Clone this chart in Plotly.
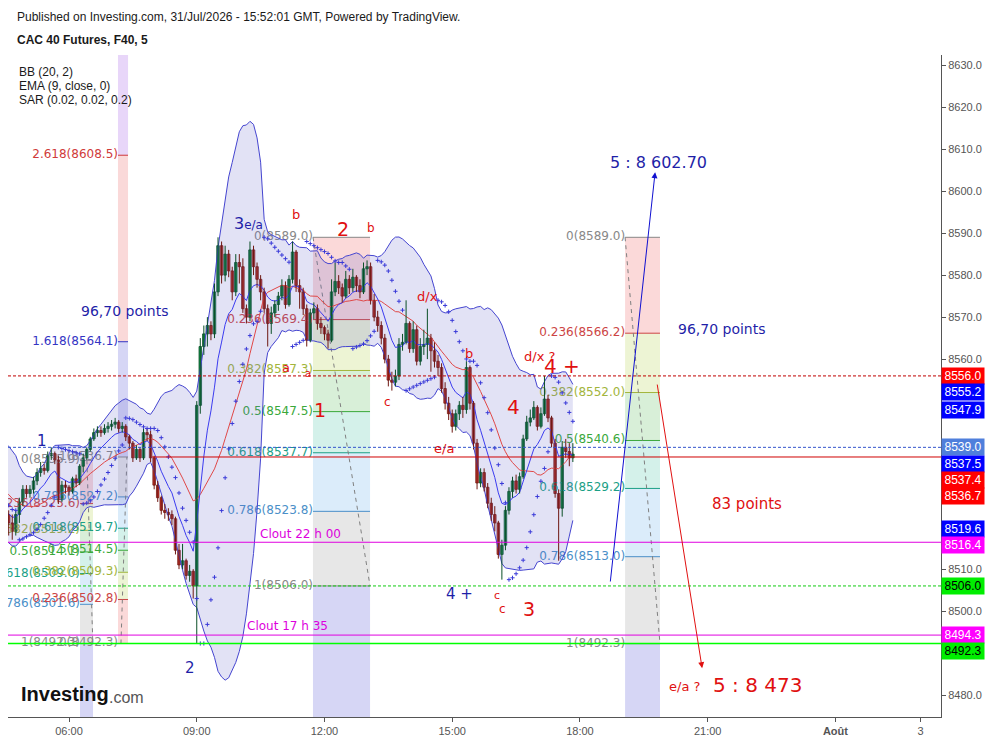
import numpy as np
import pandas as pd
import plotly.graph_objects as go

# ---------------- data ----------------
START_HOUR = 2 + 55 / 60          # first (hidden warm-up) bar 02:55
BAR_MINUTES = 5
FIRST_OPEN = 8533.0

pre_close = [8534, 8537, 8535, 8539, 8536, 8533, 8530, 8532, 8528, 8525,
             8527, 8523, 8526, 8529, 8525, 8521, 8524, 8522, 8519, 8523]
pre_high = [8536, 8538, 8538, 8540, 8540, 8537, 8534, 8533, 8533, 8529,
            8528, 8528, 8527, 8530, 8530, 8526, 8525, 8525, 8523, 8524]
pre_low = [8531, 8533, 8534, 8534, 8535, 8532, 8529, 8529, 8527, 8524,
           8524, 8522, 8522, 8525, 8524, 8520, 8520, 8521, 8518, 8518]

close = [8521, 8519, 8523, 8526, 8529, 8528, 8529, 8531, 8533, 8534,
         8533.5, 8537, 8537.5, 8536, 8526.5, 8530, 8529.5, 8528.5, 8531.5, 8530.5,
         8534.5, 8536.5, 8538.5, 8541, 8542.5, 8543, 8542.5, 8543.5, 8544, 8544.5,
         8545, 8543.5, 8544, 8541.5, 8540, 8536.5, 8538.5, 8536.5, 8542.5, 8542,
         8536.5, 8530, 8527, 8524, 8523.5, 8523, 8522, 8514.5, 8511, 8512,
         8508.5, 8509.5, 8506, 8549, 8563, 8566, 8568, 8566, 8576, 8587,
         8580, 8585, 8581, 8576, 8583, 8582, 8572, 8570, 8586, 8582,
         8579, 8576, 8572, 8568.5, 8571, 8573, 8575, 8577.5, 8573, 8579,
         8585.5, 8577.5, 8576, 8572, 8564.5, 8571, 8572, 8568.5, 8567.5, 8566,
         8564.5, 8576, 8578.5, 8577, 8575, 8579, 8577, 8579.5, 8577.5, 8576,
         8581.5, 8582, 8574, 8570, 8568, 8565, 8560, 8555, 8554.5, 8556,
         8563.5, 8564, 8568.5, 8562.5, 8567, 8559.5, 8563, 8563.5, 8565, 8562,
         8559.5, 8558, 8553, 8549.5, 8547, 8544, 8547, 8549, 8548, 8558,
         8549.5, 8540, 8530.5, 8533, 8529.5, 8525.7, 8523, 8521, 8513.5, 8515.7,
         8524, 8528.5, 8531, 8529, 8532, 8541, 8545, 8546, 8548.5, 8544,
         8547, 8550.5, 8546, 8540, 8528, 8524.5, 8539, 8538, 8536.5, 8537.4]
high = [8524, 8523, 8524, 8527, 8530, 8530, 8530, 8532, 8534, 8535.5,
        8535, 8538, 8539, 8538, 8537, 8531, 8531, 8530, 8532, 8532.5,
        8535, 8537.5, 8539, 8541.5, 8543.5, 8544, 8544, 8544.5, 8545, 8545.5,
        8546, 8545.5, 8545, 8544.5, 8542, 8540.5, 8539.5, 8539, 8543.5, 8543.5,
        8543, 8537, 8531, 8527.5, 8525.5, 8524.5, 8524, 8522.5, 8516, 8516,
        8512.5, 8511, 8510, 8550, 8565, 8568, 8570, 8569, 8578, 8589,
        8588, 8587, 8586, 8582, 8585, 8585, 8584, 8573, 8588, 8587,
        8583, 8580, 8577, 8573, 8572.5, 8574, 8576, 8579, 8578.5, 8580,
        8588, 8586, 8579, 8577, 8573, 8572, 8573.5, 8573, 8570, 8568,
        8567, 8579, 8583, 8580, 8578, 8581, 8580, 8581.5, 8580, 8579,
        8583, 8583.5, 8583, 8575.5, 8571.5, 8569, 8566, 8561, 8557, 8557.5,
        8565, 8566, 8574, 8569, 8569, 8568, 8565, 8567, 8572, 8566,
        8564, 8561, 8559, 8554.5, 8551, 8548, 8548, 8550, 8551, 8559.5,
        8558.5, 8550, 8541, 8534, 8534, 8530.5, 8527, 8525, 8521.5, 8517,
        8525, 8529.5, 8532, 8532.5, 8533, 8542, 8546.5, 8548, 8550, 8549,
        8548.5, 8556, 8551.5, 8546.5, 8541, 8529, 8540.5, 8541, 8540, 8540]
low = [8518, 8517, 8518, 8521, 8525, 8527, 8527, 8528, 8530, 8532,
       8532.5, 8533, 8536, 8535, 8525.5, 8526, 8528, 8527.5, 8528, 8529.5,
       8530, 8533, 8536, 8538, 8540.5, 8541.5, 8541.5, 8542, 8542.5, 8543,
       8543.5, 8542.5, 8542.5, 8540.5, 8538.5, 8535.5, 8536, 8535.5, 8536, 8540.5,
       8535.5, 8529, 8526, 8523, 8522, 8521.5, 8520.5, 8513.5, 8510, 8510,
       8507.5, 8507, 8503, 8492.3, 8547, 8561, 8563, 8564.5, 8565, 8575,
       8578, 8578.5, 8579.5, 8574, 8575, 8578, 8571, 8568.5, 8569, 8580,
       8577, 8574, 8571, 8563, 8566, 8570, 8571.5, 8574, 8572, 8572.5,
       8578, 8576, 8572, 8570.5, 8563, 8564, 8569.5, 8567, 8566, 8564.5,
       8562.5, 8564, 8575, 8575.5, 8573.5, 8574.5, 8575.5, 8576, 8576, 8574.5,
       8575.5, 8580, 8573, 8569, 8566.5, 8563.5, 8559, 8553.5, 8552.5, 8553.5,
       8555, 8562, 8563.5, 8561.5, 8561.5, 8558.5, 8558.5, 8561, 8560, 8557,
       8558, 8556, 8552, 8548, 8545.5, 8542.5, 8543, 8545.5, 8546, 8547,
       8548, 8538.5, 8529, 8529.5, 8528.5, 8524.5, 8521.5, 8519, 8512.5, 8507.5,
       8514.5, 8523, 8527, 8528, 8528, 8531.5, 8540.5, 8544, 8545.5, 8543,
       8543.5, 8546.5, 8545, 8539, 8527, 8512, 8522.5, 8536.5, 8534.5, 8535.5]

x_tick_vals = [6, 9, 12, 15, 18, 21, 24, 26]
x_tick_text = ["06:00", "09:00", "12:00", "15:00", "18:00", "21:00", "<b>Août</b>", "3"]
y_tick_vals = [8480, 8500, 8510, 8560, 8570, 8580, 8590, 8600, 8610, 8620, 8630]

X_RANGE = [4.567, 26.48]
Y_RANGE = [8474.8, 8632.4]

# Fibonacci drawings: time span (h), price of level 0 and level 1, last level, dashed trend
fibs = [
    dict(t0=6.258, t1=6.564, p0=8535.9, p1=8492.3, maxlvl=1.618, tr=(6.42, 6.56)),
    dict(t0=7.15, t1=7.386, p0=8492.3, p1=8536.7, maxlvl=3.618, tr=(7.22, 7.36)),
    dict(t0=11.73, t1=13.07, p0=8589.0, p1=8506.0, maxlvl=1.618, tr=(11.73, 13.07)),
    dict(t0=19.06, t1=19.88, p0=8589.0, p1=8492.26, maxlvl=1.618, tr=(19.06, 19.88)),
]
fib_levels = [0, 0.236, 0.382, 0.5, 0.618, 0.786, 1, 1.618, 2.618, 3.618]
fib_line_colors = ["#888888", "#cc4444", "#a2b53c", "#3aa83a", "#1b9f86", "#4a8fc8",
                   "#888888", "#3434c4", "#d03a3a", "#9a40d0"]
fib_zone_colors = [None, "rgba(235,80,80,0.22)", "rgba(175,205,60,0.22)", "rgba(76,180,76,0.22)",
                   "rgba(40,185,150,0.20)", "rgba(90,170,230,0.22)", "rgba(120,120,120,0.18)",
                   "rgba(70,70,210,0.22)", "rgba(230,80,80,0.22)", "rgba(165,90,230,0.25)"]

# horizontal lines: price, colour, dash, width, start time (None = full width)
hlines = [
    (8556.0, "#c00000", "3px,2px", 1, None),
    (8539.0, "#3355cc", "3px,2px", 1, None),
    (8536.7, "#d00000", "solid", 1, 7.95),
    (8516.4, "#e000e0", "solid", 1, None),
    (8506.0, "#11cc11", "3px,2px", 1, None),
    (8494.3, "#e000e0", "solid", 1, None),
    (8492.3, "#00ff00", "solid", 1.5, None),
]

# price labels on the right scale
axis_labels = [(8556.0, "#ff0000", "white"), (8555.2, "#0000ff", "white"),
               (8547.9, "#0000ff", "white"), (8539.0, "#4f7fdc", "white"),
               (8537.5, "#0000ff", "white"), (8537.4, "#ff0000", "white"),
               (8536.7, "#ff0000", "white"), (8519.6, "#0000ff", "white"),
               (8516.4, "#ff00ff", "white"), (8506.0, "#00ee00", "black"),
               (8494.3, "#ff00ff", "white"), (8492.3, "#00ee00", "black")]

BLUE = "#1f1fa8"
RED = "#e01010"
MAG = "#dd00dd"
# chart notes: text, time, price, colour, size
notes = [
    ("1", 5.366, 8540.5, BLUE, 15),
    ("2", 8.842, 8486.4, BLUE, 15),
    ("3<span style='font-size:12px'>e/a</span>", 10.205, 8592.4, BLUE, 16),
    ("b", 11.33, 8594.5, RED, 13),
    ("2", 12.437, 8591.0, RED, 19),
    ("b", 13.094, 8591.2, RED, 12),
    ("a", 11.10, 8557.9, RED, 13),
    ("a", 11.62, 8556.6, RED, 10),
    ("1", 11.896, 8547.9, RED, 19),
    ("c", 13.49, 8549.8, RED, 12),
    ("d/x", 14.41, 8574.8, RED, 13),
    ("b", 15.396, 8561.4, RED, 13),
    ("e/a", 14.81, 8538.8, RED, 13),
    ("4", 16.43, 8548.6, RED, 20),
    ("d/x ?", 17.06, 8560.7, RED, 13),
    ("4 +", 17.58, 8558.3, RED, 20),
    ("4 +", 15.16, 8504.0, BLUE, 15),
    ("c", 16.05, 8503.8, RED, 11),
    ("c", 16.17, 8500.4, RED, 12),
    ("3", 16.80, 8500.5, RED, 19),
    ("5 : 8 602.70", 19.836, 8606.7, BLUE, 16),
    ("96,70 points", 21.34, 8567.1, BLUE, 14),
    ("96,70 points", 7.315, 8571.4, BLUE, 14),
    ("83 points", 21.93, 8525.5, RED, 15),
    ("e/a ?", 20.45, 8482.1, RED, 13),
    ("5 : 8 473", 22.16, 8482.4, RED, 20),
    ("Clout 22 h 00", 11.43, 8518.3, MAG, 12),
    ("Clout 17 h 35", 11.12, 8496.4, MAG, 12),
]
# arrows: (t_start, p_start, t_end, p_end, colour)
arrows = [
    (18.71, 8506.7, 19.766, 8604.5, "#1010d0"),
    (19.81, 8554.3, 20.87, 8486.4, "#e01010"),
]

# ---------------- computations ----------------
c_all = np.array(pre_close + close, dtype=float)
h_all = np.array(pre_high + high, dtype=float)
l_all = np.array(pre_low + low, dtype=float)
o_all = np.concatenate([[FIRST_OPEN], c_all[:-1]])
h_all = np.maximum.reduce([h_all, o_all, c_all])
l_all = np.minimum.reduce([l_all, o_all, c_all])
n = len(c_all)
bar_h = BAR_MINUTES / 60.0
times = START_HOUR + np.arange(n) * bar_h

s = pd.Series(c_all)
basis = s.rolling(20).mean()
dev = s.rolling(20).std(ddof=0)
upper = basis + 2 * dev
lower = basis - 2 * dev
ema9 = s.ewm(span=9, adjust=False).mean()


def psar(hi, lo, start=0.02, inc=0.02, mx=0.2):
    out = np.full(len(hi), np.nan)
    up = True
    af = start
    ep = hi[0]
    out[0] = lo[0]
    for i in range(1, len(hi)):
        prev = out[i - 1]
        v = prev + af * (ep - prev)
        if up:
            v = min(v, lo[i - 1], lo[max(i - 2, 0)])
            if lo[i] < v:
                up, v, ep, af = False, ep, lo[i], start
            elif hi[i] > ep:
                ep, af = hi[i], min(af + inc, mx)
        else:
            v = max(v, hi[i - 1], hi[max(i - 2, 0)])
            if hi[i] > v:
                up, v, ep, af = True, ep, hi[i], start
            elif lo[i] < ep:
                ep, af = lo[i], min(af + inc, mx)
        out[i] = v
    return out


sar = psar(h_all, l_all)

# ---------------- figure ----------------
# page body has an 8px margin, so the figure is sized/positioned to compensate
FIG_W, FIG_H = 985, 733
M_L, M_R, M_T, M_B = 0, 52, 47, 24
PLOT_W = FIG_W - M_L - M_R
PLOT_H = FIG_H - M_T - M_B

fig = go.Figure()
shapes = []

lab_x, lab_y, lab_t, lab_c = [], [], [], []
for f in fibs:
    rng = f["p1"] - f["p0"]
    lvls = [lv for lv in fib_levels if lv <= f["maxlvl"] + 1e-9]
    for k in range(1, len(lvls)):
        ya = f["p0"] + lvls[k - 1] * rng
        yb = f["p0"] + lvls[k] * rng
        shapes.append(dict(type="rect", xref="x", yref="y", x0=f["t0"], x1=f["t1"],
                           y0=ya, y1=yb, fillcolor=fib_zone_colors[k], line=dict(width=0),
                           layer="below"))
    for k, lv in enumerate(lvls):
        price = f["p0"] + lv * rng
        if not (Y_RANGE[0] < price < Y_RANGE[1]):
            continue
        shapes.append(dict(type="line", xref="x", yref="y", x0=f["t0"], x1=f["t1"],
                           y0=price, y1=price, line=dict(color=fib_line_colors[k], width=1),
                           layer="below"))
        lab_x.append(f["t0"])
        lab_y.append(price)
        lab_t.append(f"{lv:g}({price:.1f})")
        lab_c.append(fib_line_colors[k])
    shapes.append(dict(type="line", xref="x", yref="y", x0=f["tr"][0], x1=f["tr"][1],
                       y0=f["p0"], y1=f["p1"], line=dict(color="#808080", width=1, dash="4px,4px"),
                       layer="below"))

# horizontal rays are drawn over the candles, as in the reference
for price, col, dash, lw, t_start in hlines:
    x0 = X_RANGE[0] if t_start is None else t_start
    shapes.append(dict(type="line", xref="x", yref="y", x0=x0, x1=X_RANGE[1],
                       y0=price, y1=price, line=dict(color=col, width=lw, dash=dash),
                       layer="above"))

fig.add_trace(go.Scatter(x=lab_x, y=lab_y, text=lab_t, mode="text", textposition="middle left",
                         textfont=dict(family="DejaVu Sans", size=12, color=lab_c),
                         cliponaxis=False, hoverinfo="skip"))

fig.add_trace(go.Scatter(x=times, y=upper, mode="lines", line=dict(color="#4545d0", width=1),
                         hoverinfo="skip"))
fig.add_trace(go.Scatter(x=times, y=lower, mode="lines", line=dict(color="#4545d0", width=1),
                         fill="tonexty", fillcolor="rgba(100,100,200,0.19)", hoverinfo="skip"))
fig.add_trace(go.Scatter(x=times, y=basis, mode="lines", line=dict(color="#e04848", width=1),
                         hoverinfo="skip"))
fig.add_trace(go.Scatter(x=times, y=ema9, mode="lines", line=dict(color="#3c3cf0", width=1),
                         hoverinfo="skip"))

# candles: wicks as line segments, bodies as floating bars
up = c_all >= o_all
for mask, body_col, edge_col in [(up, "#17a052", "#0b4f27"), (~up, "#e03a30", "#6e1812")]:
    wx, wy = [], []
    for t, lo_, hi_ in zip(times[mask], l_all[mask], h_all[mask]):
        wx += [t, t, None]
        wy += [lo_, hi_, None]
    fig.add_trace(go.Scatter(x=wx, y=wy, mode="lines", line=dict(color=edge_col, width=1),
                             connectgaps=False, hoverinfo="skip"))
    bottoms = np.minimum(o_all[mask], c_all[mask])
    heights = np.maximum(np.abs(c_all[mask] - o_all[mask]), 0.2)
    fig.add_trace(go.Bar(x=times[mask], y=heights, base=bottoms, width=bar_h * 0.72,
                         marker=dict(color=body_col, line=dict(color=edge_col, width=0.8)),
                         hoverinfo="skip"))

fig.add_trace(go.Scatter(x=times, y=sar, mode="markers",
                         marker=dict(symbol="cross-thin", size=3, line=dict(width=1, color="#3a3ad8")),
                         hoverinfo="skip"))

annotations = []
for txt, t, p, col, size in notes:
    annotations.append(dict(x=t, y=p, xref="x", yref="y", text=txt, showarrow=False,
                            font=dict(family="DejaVu Sans", size=size, color=col)))
for t0, p0, t1, p1, col in arrows:
    annotations.append(dict(x=t1, y=p1, ax=t0, ay=p0, xref="x", yref="y", axref="x", ayref="y",
                            text="", showarrow=True, arrowhead=2, arrowsize=1.2, arrowwidth=1,
                            arrowcolor=col))

# right scale price boxes (stacked so they do not overlap)
px_per = PLOT_H / (Y_RANGE[1] - Y_RANGE[0])
prev_px = -1e9
for val, bg, fg in sorted(axis_labels, key=lambda r: -r[0]):
    nat = (Y_RANGE[1] - val) * px_per
    adj = max(nat, prev_px + 16.3)
    prev_px = adj
    annotations.append(dict(x=1, y=val, xref="paper", yref="y", xanchor="left", yanchor="middle",
                            yshift=-(adj - nat), text=f"{val:.1f}", showarrow=False,
                            bgcolor=bg, width=40, align="center", borderpad=1,
                            font=dict(family="Liberation Sans", size=12, color=fg)))


def paper_x(px):
    # px: horizontal pixel in the browser window
    return (px - 8 - M_L) / PLOT_W


def paper_y(py):
    # py: vertical pixel in the browser window
    return (8 + M_T + PLOT_H - py) / PLOT_H


header = [
    ("Published on Investing.com, 31/Jul/2026 - 15:52:01 GMT, Powered by TradingView.", 15, 17),
    ("<b>CAC 40 Futures, F40, 5</b>", 15, 40),
    ("BB (20, 2)", 17, 72),
    ("EMA (9, close, 0)", 17, 86),
    ("SAR (0.02, 0.02, 0.2)", 17, 100),
]
for txt, px, py in header:
    annotations.append(dict(x=paper_x(px), y=paper_y(py), xref="paper", yref="paper",
                            xanchor="left", yanchor="middle", text=txt, showarrow=False,
                            font=dict(family="Liberation Sans", size=12, color="#1a1a1a")))
annotations.append(dict(x=paper_x(19), y=paper_y(694), xref="paper", yref="paper", xanchor="left",
                        yanchor="middle", text="<b>Investing</b>", showarrow=False,
                        font=dict(family="Liberation Sans", size=20, color="#111111")))
annotations.append(dict(x=paper_x(107), y=paper_y(697), xref="paper", yref="paper", xanchor="left",
                        yanchor="middle", text=".com", showarrow=False,
                        font=dict(family="Liberation Sans", size=16, color="#555555")))

fig.update_layout(
    width=FIG_W, height=FIG_H,
    margin=dict(l=M_L, r=M_R, t=M_T, b=M_B),
    plot_bgcolor="white", paper_bgcolor="white", barmode="overlay",
    showlegend=False, shapes=shapes, annotations=annotations,
    xaxis=dict(range=X_RANGE, tickvals=x_tick_vals, ticktext=x_tick_text, showgrid=False,
               zeroline=False, showline=True, linecolor="#555555", ticks="outside", ticklen=4,
               tickcolor="#555555", tickfont=dict(family="Liberation Sans", size=11, color="#555555"),
               fixedrange=True),
    yaxis=dict(range=Y_RANGE, side="right", tickvals=y_tick_vals,
               ticktext=[f"{v:.1f}" for v in y_tick_vals], showgrid=False, zeroline=False,
               showline=True, linecolor="#555555", ticks="outside", ticklen=4, tickcolor="#555555",
               tickfont=dict(family="Liberation Sans", size=11, color="#555555")),
)

fig.write_html("out.html")
